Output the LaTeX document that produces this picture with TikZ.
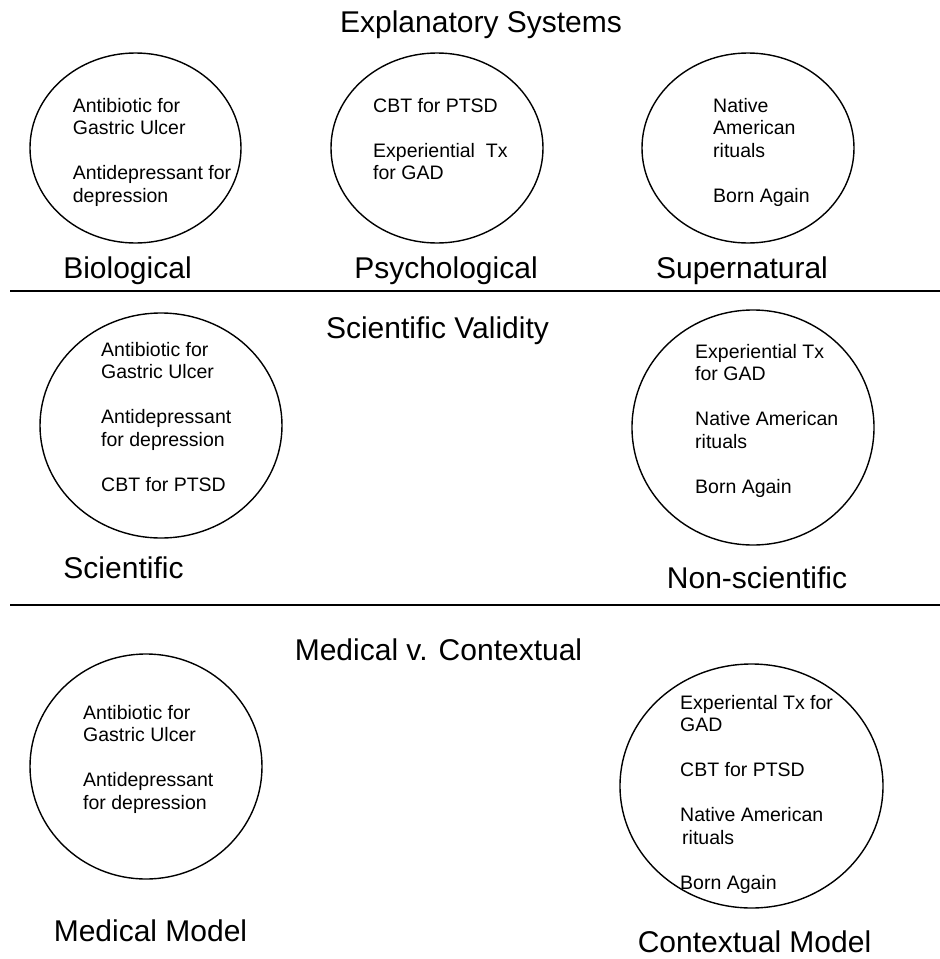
\documentclass[tikz,border=0pt]{standalone}
\usepackage{fontspec}
\setmainfont{Liberation Sans}
\usetikzlibrary{shapes.geometric}

\tikzset{
  sectitle/.style={anchor=base, inner sep=0pt, font=\fontsize{30}{36}\selectfont},
  setname/.style={anchor=base, inner sep=0pt, font=\fontsize{30}{36}\selectfont},
  setcircle/.style={draw, ellipse, line width=1.4pt, inner sep=0pt},
  items/.style={anchor=north west, inner sep=0pt, align=left,
    font=\fontsize{19.5}{22.5}\selectfont},
  rule/.style={line width=2pt}
}

\begin{document}
\begin{tikzpicture}[x=1pt, y=-1pt]
  \useasboundingbox (0,0) rectangle (940,959);

  % Explanatory systems
  \node[sectitle] (explan) at (481,32) {Explanatory Systems};

  \node[setcircle, minimum width=211pt, minimum height=190pt] (biocirc) at (135.5,148) {};
  \node[items] (bioitems) at (72.7,97.8) {Antibiotic for\\Gastric Ulcer\\[22.5pt]Antidepressant for\\depression};
  \node[setname] (bio) at (127.5,278) {Biological};

  \node[setcircle, minimum width=212pt, minimum height=190pt] (psycirc) at (437,148) {};
  \node[items] (psyitems) at (373,97.8) {CBT for PTSD\\[22.5pt]Experiential\ \ Tx\\for GAD};
  \node[setname] (psy) at (446,278) {Psychological};

  \node[setcircle, minimum width=212pt, minimum height=190pt] (supcirc) at (748,148) {};
  \node[items] (supitems) at (713,97.8) {Native\\American\\rituals\\[22.5pt]Born Again};
  \node[setname] (sup) at (742,278) {Supernatural};

  \coordinate (ruleAw) at (10,291);
  \coordinate (ruleAe) at (940,291);
  \draw[rule] (ruleAw) -- (ruleAe);

  % Scientific validity
  \node[sectitle] (valid) at (437.5,338) {Scientific Validity};

  \node[setcircle, minimum width=242pt, minimum height=225pt] (scicirc) at (161,425.5) {};
  \node[items] (sciitems) at (101,341.8) {Antibiotic for\\Gastric Ulcer\\[22.5pt]Antidepressant\\for depression\\[22.5pt]CBT for PTSD};
  \node[setname] (sci) at (123.5,578) {Scientific};

  \node[setcircle, minimum width=242pt, minimum height=235pt] (noncirc) at (753,427.5) {};
  \node[items] (nonitems) at (695,343.8) {Experiential Tx\\for GAD\\[22.5pt]Native American\\rituals\\[22.5pt]Born Again};
  \node[setname] (non) at (757,588) {Non-scientific};

  \coordinate (ruleBw) at (10,605);
  \coordinate (ruleBe) at (940,605);
  \draw[rule] (ruleBw) -- (ruleBe);

  % Medical v. contextual
  \node[sectitle] (medcon) at (438.5,660) {Medical v. Contextual};

  \node[setcircle, minimum width=232pt, minimum height=225pt] (medcirc) at (146,766.5) {};
  \node[items] (meditems) at (83,704.8) {Antibiotic for\\Gastric Ulcer\\[22.5pt]Antidepressant\\for depression};
  \node[setname] (med) at (150.5,941) {Medical Model};

  \node[setcircle, minimum width=263pt, minimum height=244pt] (concirc) at (751.5,786) {};
  \node[items] (conitems) at (680,694.8) {Experiental Tx for\\GAD\\[22.5pt]CBT for PTSD\\[22.5pt]Native American\\\hspace*{2pt}rituals\\[22.5pt]Born Again};
  \node[setname] (con) at (754.5,952) {Contextual Model};
\end{tikzpicture}
\end{document}
